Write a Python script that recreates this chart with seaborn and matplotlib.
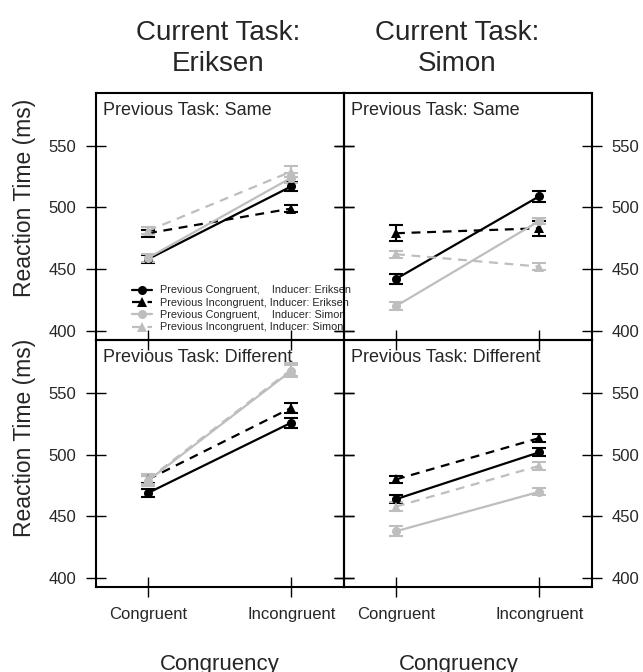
import pandas as pd
import matplotlib
matplotlib.use("Agg")
import matplotlib.pyplot as plt
import seaborn as sns

sns.set_style("ticks")
plt.rcParams['font.family'] = ['Liberation Sans', 'DejaVu Sans']

# conditions on the x axis
conditions = ["Congruent", "Incongruent"]

# the four lines (legend labels)
series = [
    "Previous Congruent,    Inducer: Eriksen",
    "Previous Incongruent, Inducer: Eriksen",
    "Previous Congruent,    Inducer: Simon",
    "Previous Incongruent, Inducer: Simon",
]

# mean RT per series, [Congruent, Incongruent]
eriksen_same_rt = [[458, 517], [479, 499], [459, 524], [481, 529]]
eriksen_same_se = [[3.0, 3.5], [3.0, 3.0], [3.0, 4.0], [3.0, 4.5]]
simon_same_rt = [[442, 509], [479, 483], [420, 489], [462, 452]]
simon_same_se = [[4.0, 4.5], [6.5, 6.0], [3.5, 2.7], [2.7, 2.7]]
eriksen_diff_rt = [[469, 526], [480, 538], [479, 568], [480, 569]]
eriksen_diff_se = [[3.2, 4.0], [3.0, 4.0], [4.0, 5.0], [4.0, 5.5]]
simon_diff_rt = [[464, 502], [480, 513.5], [438, 470], [458, 491]]
simon_diff_se = [[3.0, 3.2], [3.0, 3.5], [4.0, 2.7], [3.4, 3.3]]

current_tasks = ["Eriksen", "Simon"]
previous_tasks = ["Same", "Different"]

panels = {
    ("Same", "Eriksen"): (eriksen_same_rt, eriksen_same_se),
    ("Same", "Simon"): (simon_same_rt, simon_same_se),
    ("Different", "Eriksen"): (eriksen_diff_rt, eriksen_diff_se),
    ("Different", "Simon"): (simon_diff_rt, simon_diff_se),
}

black = "#000000"
gray = "#bebebe"
palette = dict(zip(series, [black, black, gray, gray]))
marker_map = dict(zip(series, ["o", "^", "o", "^"]))
dash_map = dict(zip(series, ["", (4, 3), "", (4, 3)]))

W, H = 643, 672
fig, axes = plt.subplots(2, 2, figsize=(W / 100, H / 100), dpi=100)
fig.subplots_adjust(left=95.7 / W, right=591.7 / W, top=1 - 92.5 / H,
                    bottom=1 - 587.3 / H, wspace=0, hspace=0)

for r, prev in enumerate(previous_tasks):
    for c, cur in enumerate(current_tasks):
        ax = axes[r, c]
        ax.set_facecolor("none")
        rt, se = panels[(prev, cur)]
        rows = []
        for i, s in enumerate(series):
            for j, cond in enumerate(conditions):
                rows.append({"series": s, "congruency": cond, "rt": rt[i][j], "se": se[i][j]})
        df = pd.DataFrame(rows)

        for s in series:
            sub = df[df["series"] == s]
            ax.errorbar(sub["congruency"], sub["rt"], yerr=sub["se"], fmt="none",
                        ecolor=palette[s], elinewidth=1.5, capsize=5, capthick=1.5)

        sns.lineplot(data=df, x="congruency", y="rt", hue="series", style="series",
                     hue_order=series, style_order=series, palette=palette,
                     markers=marker_map, dashes=dash_map, markersize=6.5,
                     linewidth=1.6, markeredgewidth=0, legend=(r == 0 and c == 0), ax=ax)

        ax.set_xlim(-0.365, 1.365)
        ax.set_ylim(392.6, 593)
        ax.set_yticks([400, 450, 500, 550])
        ax.set_xlabel("")
        ax.set_ylabel("")
        ax.tick_params(axis="both", direction="inout", length=14, width=1,
                       color="black", labelsize=12, pad=7)
        ax.tick_params(axis="y", left=True, right=True,
                       labelleft=(c == 0), labelright=(c == 1))
        ax.tick_params(axis="x", bottom=True, top=False, labelbottom=(r == 1))
        for sp in ax.spines.values():
            sp.set_linewidth(1.5)
            sp.set_color("black")
        ax.text(7 / 247.6, 1 - 22.5 / 246.8, "Previous Task: " + prev,
                transform=ax.transAxes, fontsize=13, ha="left", va="baseline")

sns.move_legend(axes[0, 0], "lower left", bbox_to_anchor=(0.145, 0.03),
                frameon=False, title=None, fontsize=7.8, handlelength=1.9,
                handletextpad=0.7, labelspacing=0.22, borderpad=0, borderaxespad=0)

# column titles and x labels
for x, task in zip([218, 457], current_tasks):
    fig.text(x / W, 1 - 40 / H, "Current Task:", ha="center", va="baseline", fontsize=20)
    fig.text(x / W, 1 - 71 / H, task, ha="center", va="baseline", fontsize=20)
    fig.text((x + 2) / W, 1 - 670 / H, "Congruency", ha="center", va="baseline", fontsize=16)

for y in [198, 438]:
    fig.text(24 / W, 1 - y / H, "Reaction Time (ms)", rotation=90,
             ha="center", va="center", fontsize=16.5)

fig.savefig("out.png", dpi=100)
